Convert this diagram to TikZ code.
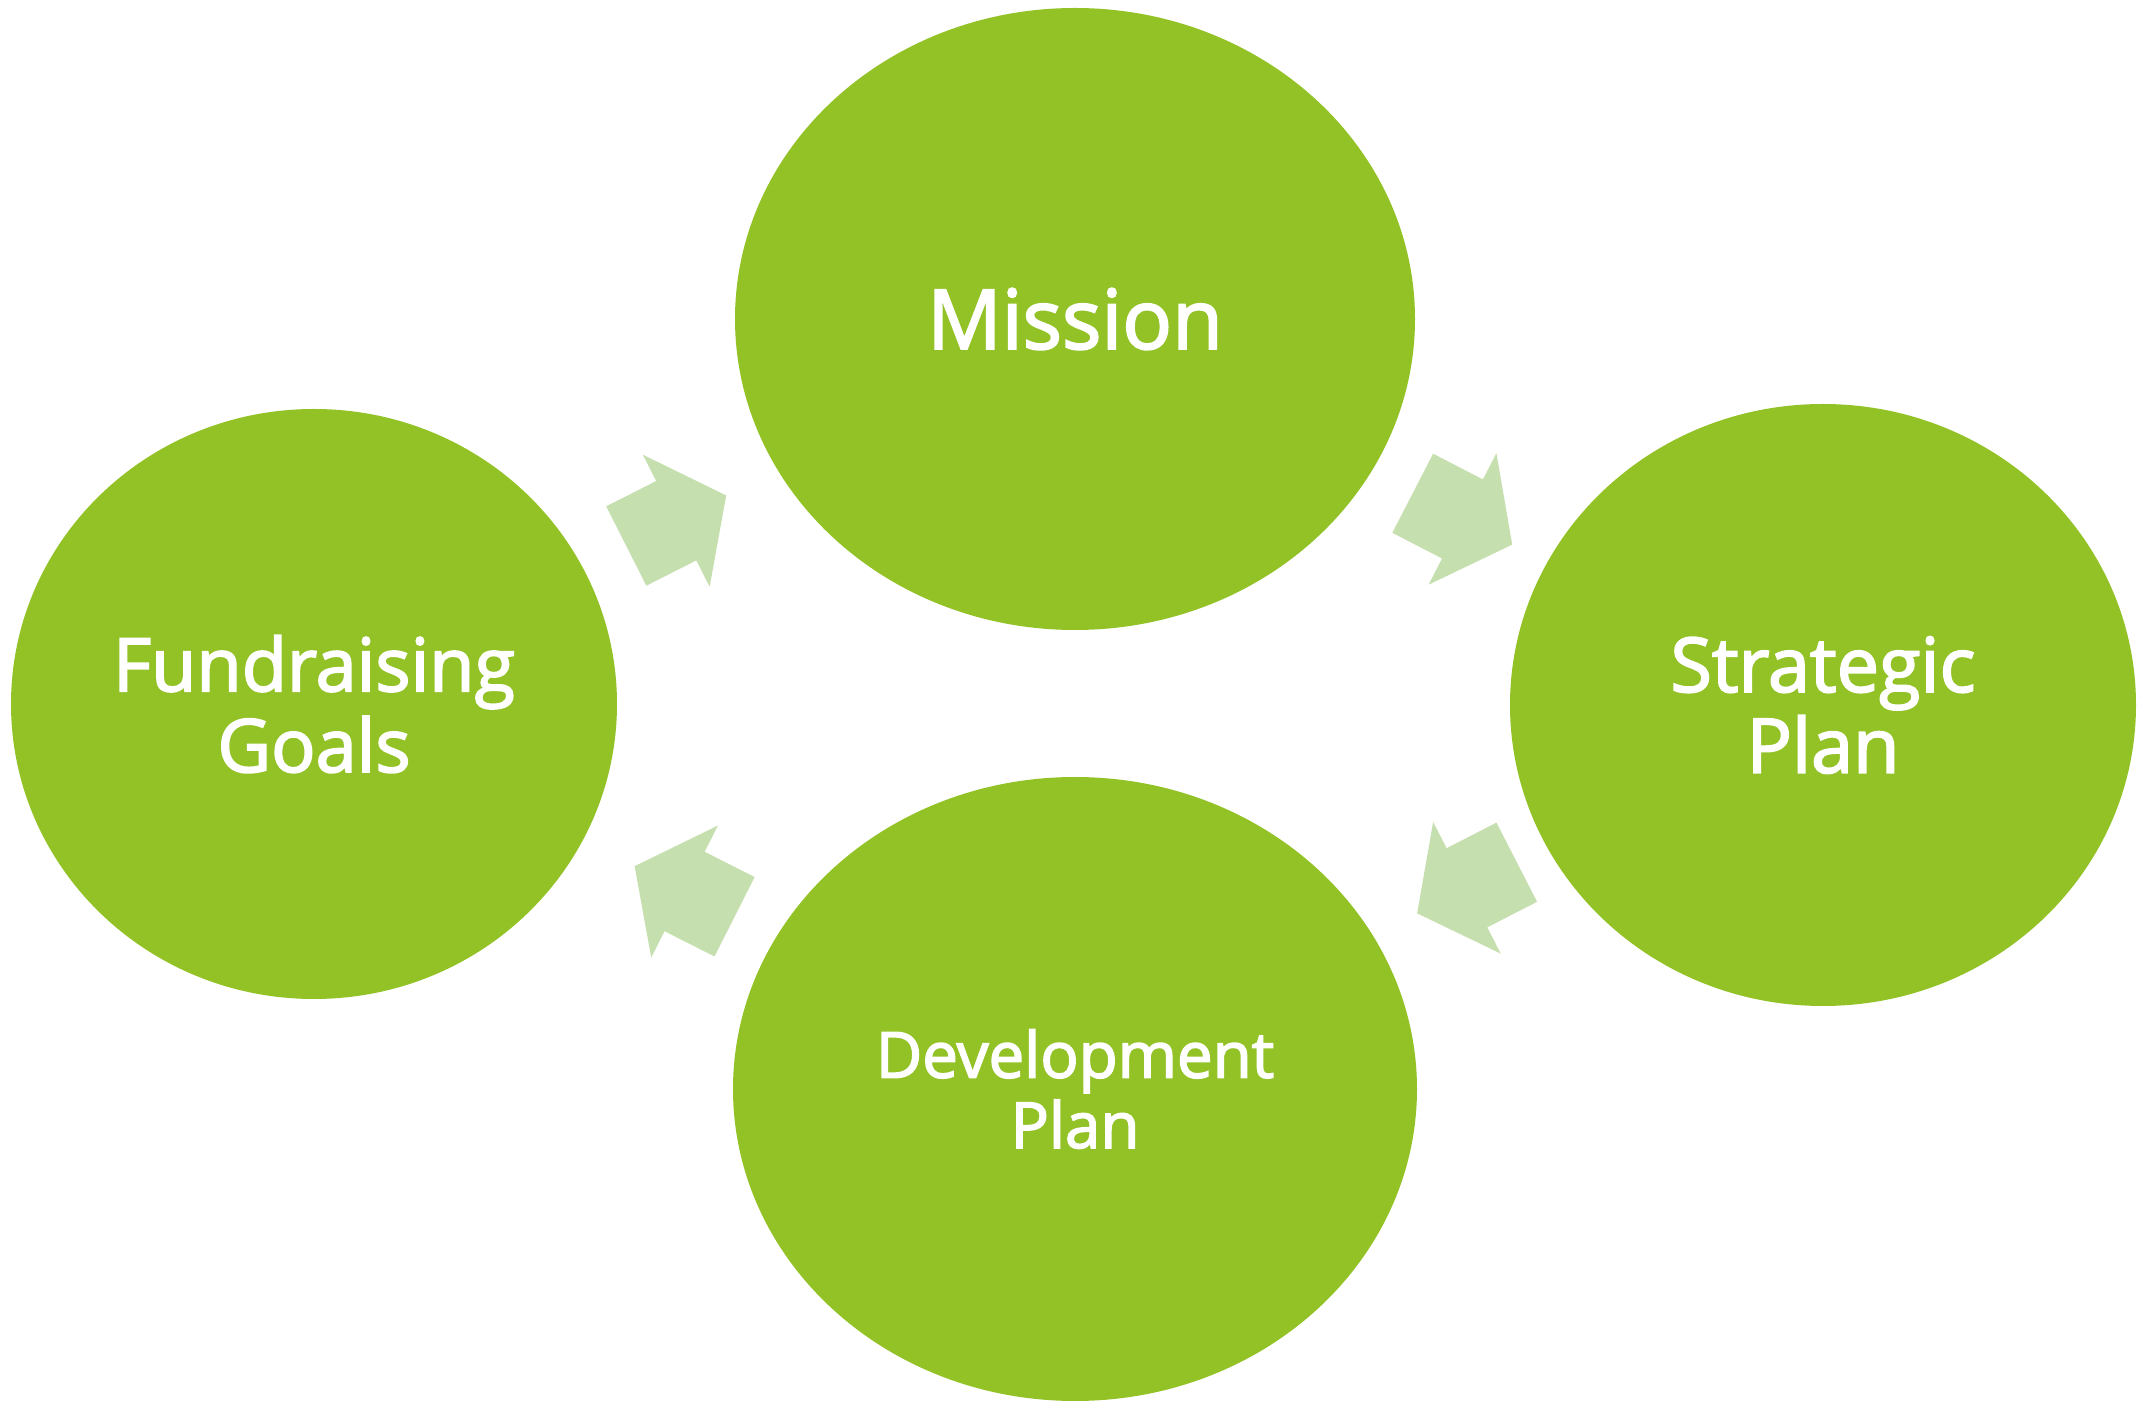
\documentclass[tikz,border=0pt]{standalone}
\usepackage{fontspec}
\setmainfont{Open Sans}[FakeBold=2.4]
\usetikzlibrary{shapes.geometric}
\definecolor{leaf}{RGB}{147,194,38}
\definecolor{paleleaf}{RGB}{198,223,175}

\begin{document}
\begin{tikzpicture}[x=0.1mm,y=0.1mm,
  bubble/.style={ellipse,fill=leaf,text=white,inner sep=0pt,align=center},
  cyclearrow/.pic={
    \fill[paleleaf] (-56,-44.5) -- (0,-44.5) -- (0,-74) -- (56,0)
      -- (0,74) -- (0,44.5) -- (-56,44.5) -- cycle;}]
\useasboundingbox (0,0) rectangle (2139,1404);

% the four stages of the cycle
\node[bubble,minimum width=68mm,minimum height=62.2mm,
  font=\fontsize{23.5}{28}\selectfont] (mission) at (1075,1085) {Mission};
\node[bubble,minimum width=62.6mm,minimum height=60.2mm,
  font=\fontsize{21.5}{23}\selectfont] (strategic) at (1823,699) {Strategic\\Plan};
\node[bubble,minimum width=68.4mm,minimum height=62.4mm,
  font=\fontsize{18.1}{20}\selectfont] (development) at (1075,315) {Development\\Plan};
\node[bubble,minimum width=60.6mm,minimum height=59mm,
  font=\fontsize{21}{23}\selectfont] (fundraising) at (314,700) {Fundraising\\Goals};

% block arrows going round clockwise
\path (fundraising.center) -- (mission.center) pic[pos=0.476,sloped,allow upside down] {cyclearrow};
\path (mission.center) -- (strategic.center) pic[pos=0.518,sloped,allow upside down] {cyclearrow};
\path (strategic.center) -- (development.center) pic[pos=0.476,sloped,allow upside down] {cyclearrow};
\path (development.center) -- (fundraising.center) pic[pos=0.513,sloped,allow upside down] {cyclearrow};
\end{tikzpicture}
\end{document}
